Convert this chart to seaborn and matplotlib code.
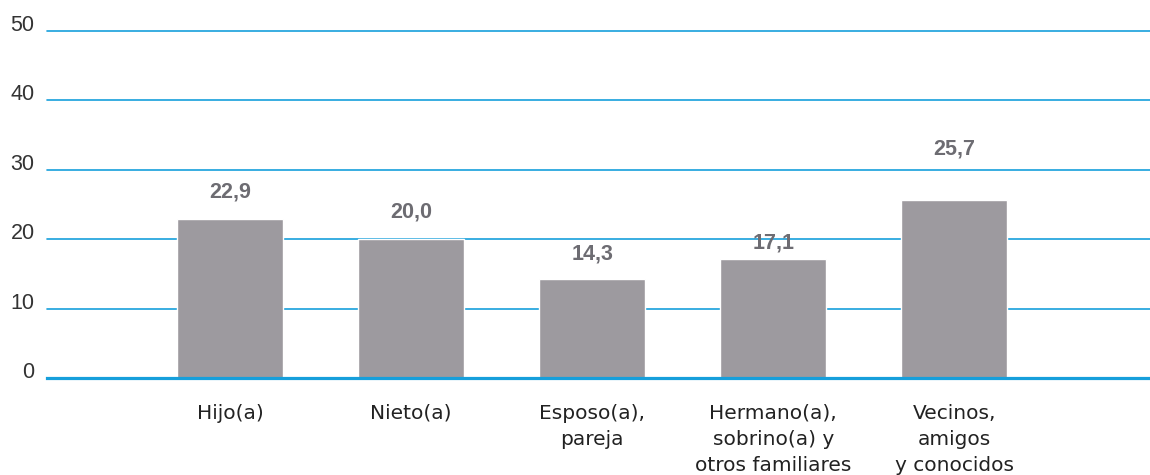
import matplotlib
matplotlib.use("Agg")
import matplotlib.pyplot as plt
import seaborn as sns
import pandas as pd

categories = ["Hijo(a)", "Nieto(a)", "Esposo(a),\npareja",
              "Hermano(a),\nsobrino(a) y\notros familiares",
              "Vecinos,\namigos\ny conocidos"]
values = [22.9, 20.0, 14.3, 17.1, 25.7]
value_labels = ["22,9", "20,0", "14,3", "17,1", "25,7"]
yticks = [0, 10, 20, 30, 40, 50]

# label offsets above bar tops (points) - styling only
label_offsets = [15.8, 15.8, 13.7, 7.9, 32.5]

sns.set_theme(style="white")
plt.rcParams['font.family'] = ['Liberation Sans', 'DejaVu Sans']

BLUE = "#169fdb"
BAR = "#9d9a9f"
LBL = "#6d6c72"

fig = plt.figure(figsize=(11.5, 4.75), dpi=100)
ax = fig.add_axes([47/1150, 97/475, 1103/1150, 347/475])

df = pd.DataFrame({"cat": categories, "val": values})
sns.barplot(data=df, x="cat", y="val", color=BAR, saturation=1, width=0.585, ax=ax)

ax.set_xlim(-1.01, 5.08)
ax.set_ylim(0, 50)
ax.set_yticks(yticks)
ax.set_yticklabels([str(t) for t in yticks])
ax.set_axisbelow(True)
ax.yaxis.grid(True, color=BLUE, linewidth=1.2)
ax.xaxis.grid(False)
for l in ax.get_ygridlines():
    l.set_clip_on(False)
for s in ["top", "right", "left"]:
    ax.spines[s].set_visible(False)
ax.spines["bottom"].set_color(BLUE)
ax.spines["bottom"].set_linewidth(2.3)
ax.set_xlabel("")
ax.set_ylabel("")

ax.tick_params(axis="y", length=0, pad=9, labelsize=15.5, labelcolor="#333333")
ax.tick_params(axis="x", length=0, pad=18.5, labelsize=14.5, labelcolor="#222222")
for t in ax.get_yticklabels():
    t.set_va("baseline")
for t in ax.get_xticklabels():
    t.set_family(["DejaVu Sans"])
    t.set_linespacing(1.48)

for i, (v, lab, off) in enumerate(zip(values, value_labels, label_offsets)):
    ax.annotate(lab, xy=(i, v), xytext=(0, off), textcoords="offset points",
                ha="center", va="baseline", fontsize=15.5, fontweight="bold",
                color=LBL)

fig.savefig("out.png", dpi=100)
